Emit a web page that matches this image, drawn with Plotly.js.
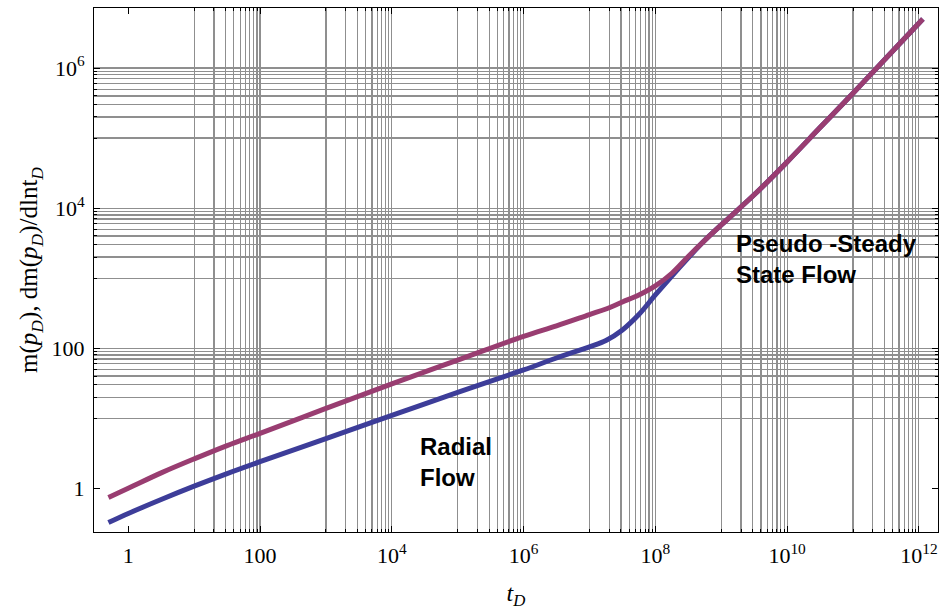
<!DOCTYPE html>
<html>
<head>
<meta charset="utf-8">
<script src="https://cdn.plot.ly/plotly-3.0.1.min.js"></script>
<style>html,body{margin:0;padding:0;background:#fff;}#chart{width:946px;height:610px;}</style>
</head>
<body>
<div id="chart"></div>
<script>
// Dimensionless time t_D
var tD = [0.5, 1, 3.16, 10, 31.6, 100, 1e3, 1e4, 1e5, 1e6, 3.16e6, 1e7, 1.78e7, 3.16e7, 5.62e7,
          1e8, 1.78e8, 3.16e8, 5.62e8, 1e9, 3.16e9, 1e10, 3.16e10, 1e11, 3.16e11, 1.15e12];
// m(p_D) (upper, magenta)
var mPD = [0.741, 1.0, 1.660, 2.630, 4.074, 6.095, 13.80, 30.90, 67.61, 147.9, 208.9, 302.0, 363.1, 457.1, 575.4,
           776.2, 1175, 2042, 3467, 5754, 15488, 45709, 141254, 436516, 1380384, 5011872];
// dm(p_D)/dln t_D (lower, blue)
var dmPD = [0.324, 0.437, 0.692, 1.072, 1.622, 2.399, 5.129, 10.96, 23.44, 48.98, 72.44, 104.7, 128.8, 182.0, 302.0,
            575.4, 1072, 1950, 3467, 5754, 15488, 45709, 141254, 436516, 1380384, 5011872];

var xTickVals = [1, 100, 1e4, 1e6, 1e8, 1e10, 1e12];
var xTickText = ['1', '100', '10<sup>4</sup>', '10<sup>6</sup>', '10<sup>8</sup>', '10<sup>10</sup>', '10<sup>12</sup>'];
var yTickVals = [1, 100, 1e4, 1e6];
var yTickText = ['1', '100', '10<sup>4</sup>', '10<sup>6</sup>'];

// grid lines: 1..10 x 10^(odd) decades (Mathematica-style)
function gridVals(nDec) {
  var out = [];
  for (var k = 0; k < nDec; k++) {
    var base = Math.pow(10, 2 * k + 1);
    for (var j = 1; j <= 10; j++) out.push(base * j);
  }
  return out;
}
var xGrid = gridVals(6);
var yGrid = gridVals(3);

var blue = '#3d3d99';
var magenta = '#993d71';

var traces = [
  {x: tD, y: dmPD, type: 'scatter', mode: 'lines', name: 'dm(p_D)/dlnt_D',
   line: {color: blue, width: 5, shape: 'spline', smoothing: 1}},
  {x: tD, y: mPD, type: 'scatter', mode: 'lines', name: 'm(p_D)',
   line: {color: magenta, width: 5, shape: 'spline', smoothing: 1}}
];

var serif = 'Liberation Serif, Times New Roman, serif';
var layout = {
  width: 946, height: 610,
  margin: {l: 94, r: 8, t: 8, b: 78},
  paper_bgcolor: '#fff', plot_bgcolor: '#fff',
  showlegend: false,
  font: {family: serif, size: 22, color: '#000'},
  xaxis: {
    type: 'log', range: [-0.52, 12.29],
    tickmode: 'array', tickvals: xTickVals, ticktext: xTickText,
    showgrid: false, zeroline: false,
    showline: true, linecolor: '#000', linewidth: 1, mirror: 'ticks',
    ticks: 'inside', ticklen: 6, tickcolor: '#000', tickwidth: 1,
    ticklabelstandoff: 4,
    tickfont: {family: serif, size: 22, color: '#000'},
    minor: {tickmode: 'array', tickvals: xGrid, showgrid: true, gridcolor: '#8f8f8f', gridwidth: 1.2,
            ticks: 'inside', ticklen: 3, tickcolor: '#000'},
    title: {text: '<i>t</i><sub><i>D</i></sub>', font: {family: serif, size: 24, color: '#000'}, standoff: 18}
  },
  yaxis: {
    type: 'log', range: [-0.624, 6.857],
    tickmode: 'array', tickvals: yTickVals, ticktext: yTickText,
    showgrid: false, zeroline: false,
    showline: true, linecolor: '#000', linewidth: 1, mirror: 'ticks',
    ticks: 'inside', ticklen: 6, tickcolor: '#000', tickwidth: 1,
    ticklabelstandoff: 4,
    tickfont: {family: serif, size: 22, color: '#000'},
    minor: {tickmode: 'array', tickvals: yGrid, showgrid: true, gridcolor: '#8f8f8f', gridwidth: 1.2,
            ticks: 'inside', ticklen: 3, tickcolor: '#000'},
    title: {text: 'm(<i>p</i><sub><i>D</i></sub>), dm(<i>p</i><sub><i>D</i></sub>)/dlnt<sub><i>D</i></sub>',
            font: {family: serif, size: 25, color: '#000'}, standoff: 6}
  },
  annotations: [
    {text: '<b>Radial<br>Flow</b>', xref: 'paper', yref: 'paper', x: 0.384, y: 0.134,
     xanchor: 'left', yanchor: 'middle', align: 'left', showarrow: false,
     font: {family: 'Liberation Sans, Arial, sans-serif', size: 24, color: '#000'}},
    {text: '<b>Pseudo -Steady<br>State Flow</b>', xref: 'paper', yref: 'paper', x: 0.758, y: 0.521,
     xanchor: 'left', yanchor: 'middle', align: 'left', showarrow: false,
     font: {family: 'Liberation Sans, Arial, sans-serif', size: 24, color: '#000'}}
  ]
};

Plotly.newPlot('chart', traces, layout, {staticPlot: true, displayModeBar: false});
</script>
</body>
</html>
